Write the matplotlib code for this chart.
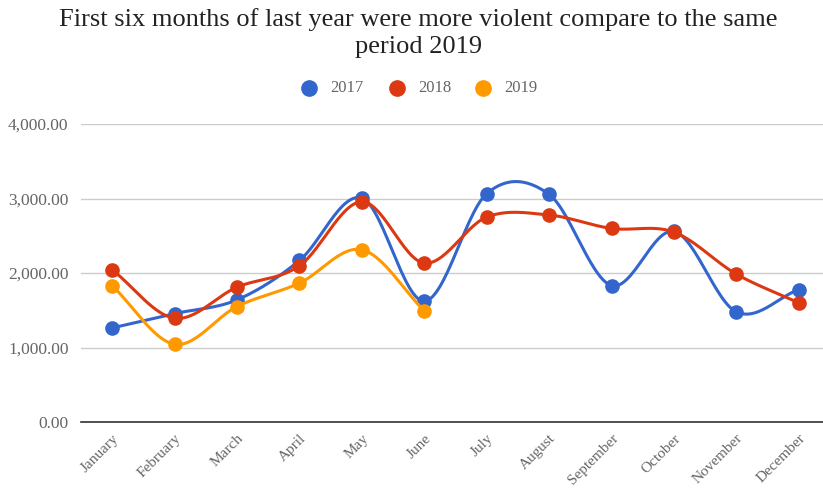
import numpy as np
from matplotlib import pyplot as plt

months = ['January', 'February', 'March', 'April', 'May', 'June', 'July',
          'August', 'September', 'October', 'November', 'December']
y2017 = [1263, 1455, 1640, 2168, 3005, 1622, 3065, 3055, 1832, 2558, 1478, 1778]
y2018 = [2043, 1393, 1810, 2097, 2957, 2133, 2751, 2778, 2598, 2549, 1985, 1600]
y2019 = [1828, 1044, 1550, 1864, 2312, 1492]
series = [('2017', y2017, '#3366cc'), ('2018', y2018, '#dc3912'), ('2019', y2019, '#ff9900')]
yticks = [0, 1000, 2000, 3000, 4000]


def smooth(vals, n=30):
    # catmull-rom through the points, like the "function" curve type
    p = np.array(vals, dtype=float)
    x = np.arange(len(p), dtype=float)
    m = np.zeros_like(p)
    m[1:-1] = (p[2:] - p[:-2]) / 2
    m[0] = (p[1] - p[0])
    m[-1] = (p[-1] - p[-2])
    xs, ys = [], []
    for i in range(len(p) - 1):
        t = np.linspace(0, 1, n)
        h00 = 2*t**3 - 3*t**2 + 1
        h10 = t**3 - 2*t**2 + t
        h01 = -2*t**3 + 3*t**2
        h11 = t**3 - t**2
        xs.append(x[i] + t)
        ys.append(h00*p[i] + h10*m[i] + h01*p[i+1] + h11*m[i+1])
    return np.concatenate(xs), np.concatenate(ys)


plt.rcParams['font.family'] = ['Liberation Serif', 'DejaVu Serif']

fig = plt.figure(figsize=(8.23, 4.91), dpi=100)
ax = fig.add_axes([81/823, 1 - 422/491, 749/823, 298/491])

for i, (name, vals, col) in enumerate(series):
    sx, sy = smooth(vals)
    ax.plot(sx, sy, color=col, lw=2.2, zorder=3 + i, solid_capstyle='round')
    ax.plot(range(len(vals)), vals, 'o', color=col, ms=9.5, zorder=3 + i)

ax.set_xlim(-0.5, 11.5)
ax.set_ylim(0, 4000)
ax.set_yticks(yticks)
ax.set_yticklabels([f'{v:,.2f}' for v in yticks], color='#666666', fontsize=12.5)
ax.set_xticks(range(len(months)))
ax.set_xticklabels(months, rotation=45, ha='right', rotation_mode='anchor',
                   color='#666666', fontsize=11)
ax.tick_params(length=0, pad=9)
ax.tick_params(axis='x', pad=7)
ax.grid(axis='y', color='#cccccc', lw=1)
ax.set_axisbelow(True)
for s in ['top', 'right', 'left']:
    ax.spines[s].set_visible(False)
ax.spines['bottom'].set_color('#333333')
ax.spines['bottom'].set_linewidth(1.2)

fig.text(0.508, 1 - 20/491, 'First six months of last year were more violent compare to the same',
         ha='center', va='center', fontsize=19, color='#222222')
fig.text(0.508, 1 - 47/491, 'period 2019', ha='center', va='center', fontsize=19, color='#222222')

leg_x = [309, 397, 483]
for (name, vals, col), lx in zip(series, leg_x):
    fig.lines.append(plt.Line2D([lx/823], [1 - 88/491], marker='o', ms=11, color=col,
                                transform=fig.transFigure, figure=fig))
    fig.text((lx + 21)/823, 1 - 88/491, name, ha='left', va='center', fontsize=12, color='#666666')

fig.savefig('out.png', dpi=100)
